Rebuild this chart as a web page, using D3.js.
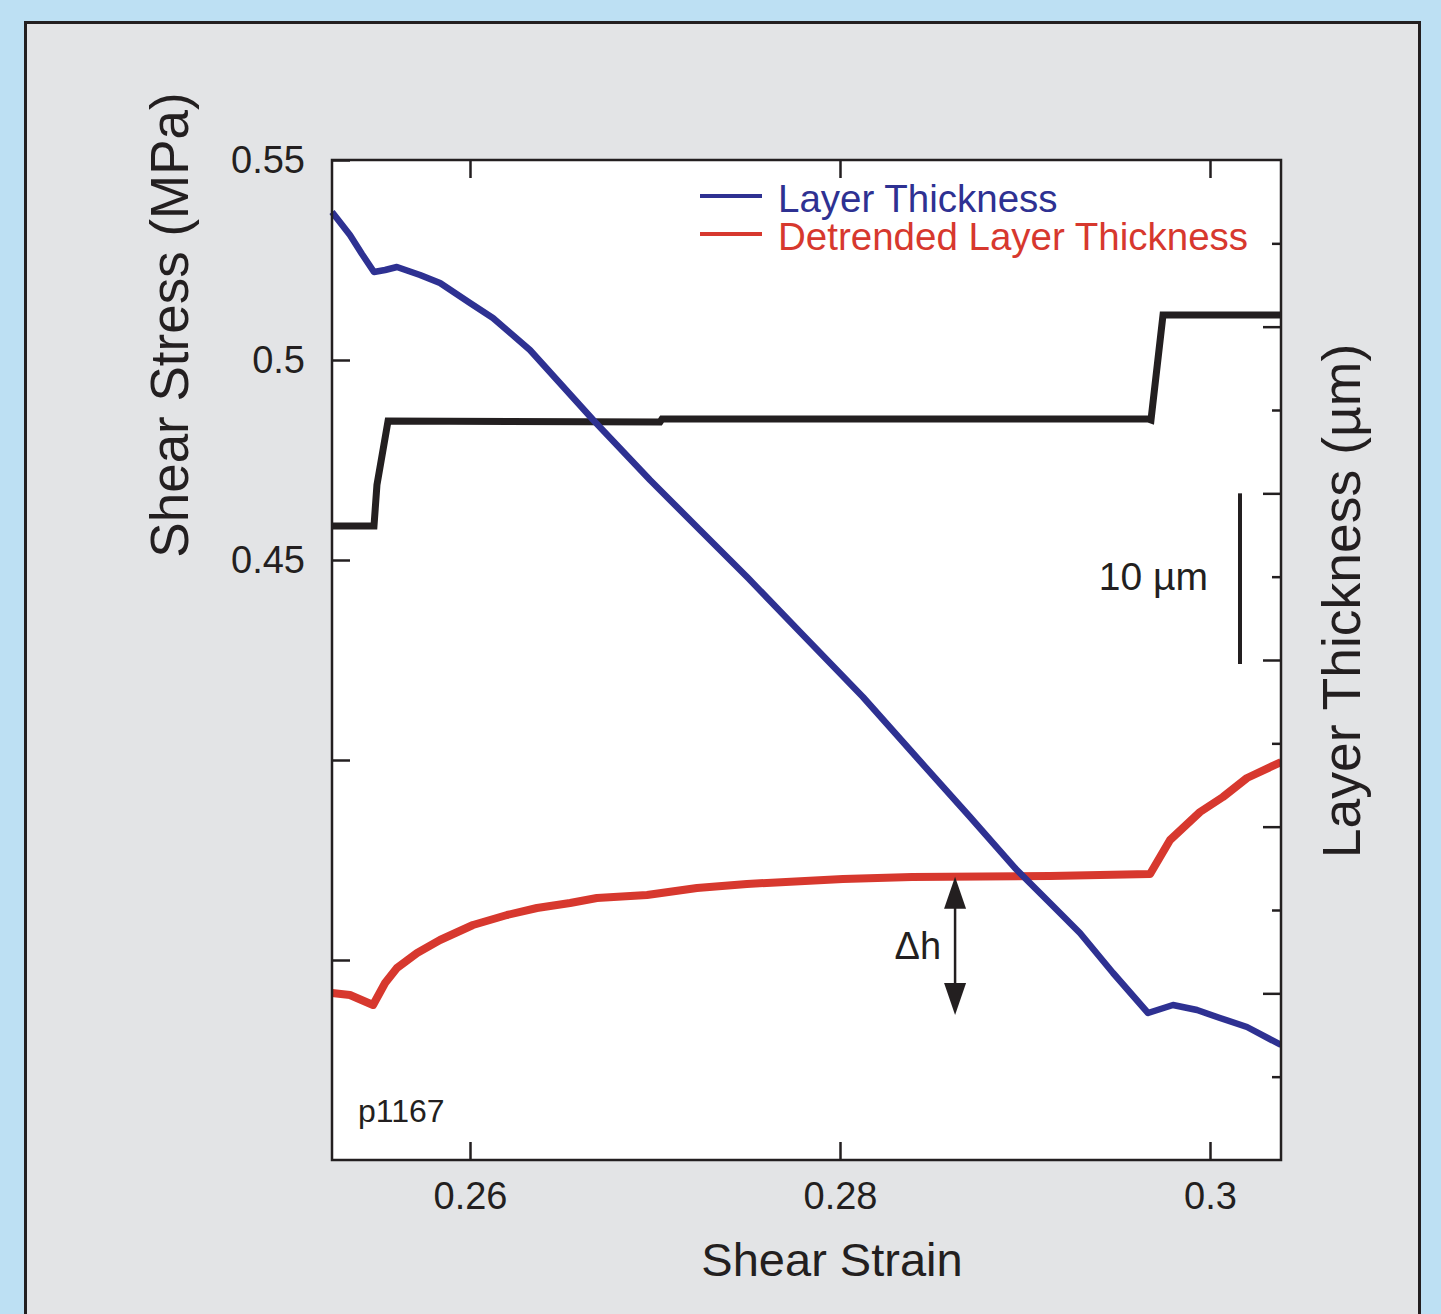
<!DOCTYPE html>
<html>
<head>
<meta charset="utf-8">
<script src="https://cdn.jsdelivr.net/npm/d3@7"></script>
<style>
  html, body { margin: 0; padding: 0; background: #bde0f3; }
  svg { display: block; font-family: "Liberation Sans", Arial, Helvetica, sans-serif; }
</style>
</head>
<body>
<div id="chart"></div>
<script>
// shear stress (MPa) vs shear strain, black step curve
const stressStrain = [0.25254, 0.25481, 0.25497, 0.25557, 0.27027, 0.27038, 0.29665, 0.29681, 0.29746, 0.30384];
const stressValues = [0.4585, 0.4585, 0.46875, 0.48475, 0.4845, 0.48525, 0.48525, 0.485, 0.51125, 0.51125];

// layer thickness (µm, relative) vs shear strain
const thickStrain = [0.25254, 0.25351, 0.25416, 0.25481, 0.25541, 0.25605, 0.2573, 0.25838, 0.26, 0.26124,
  0.26324, 0.26676, 0.26973, 0.27243, 0.27503, 0.27784, 0.28124, 0.28432, 0.28703, 0.28951,
  0.29135, 0.29297, 0.29476, 0.29665, 0.298, 0.2993, 0.30054, 0.302, 0.30384];
const thickValues = [56.88, 55.5, 54.36, 53.28, 53.4, 53.58, 53.1, 52.62, 51.42, 50.52,
  48.6, 44.28, 40.8, 37.8, 34.92, 31.68, 27.78, 23.94, 20.58, 17.46,
  15.42, 13.62, 11.22, 8.82, 9.3, 9.0, 8.52, 7.98, 6.9];

// detrended layer thickness (µm, relative)
const detStrain = [0.25254, 0.25351, 0.25476, 0.25541, 0.25605, 0.25714, 0.25838, 0.26016, 0.262, 0.26362,
  0.26541, 0.26686, 0.26957, 0.27227, 0.27497, 0.28016, 0.28389, 0.29135, 0.29676, 0.29784,
  0.29946, 0.3007, 0.302, 0.30384];
const detValues = [10.02, 9.9, 9.3, 10.62, 11.52, 12.42, 13.2, 14.1, 14.7, 15.12,
  15.42, 15.72, 15.9, 16.32, 16.56, 16.86, 16.98, 17.04, 17.16, 19.2,
  20.88, 21.78, 22.92, 23.88];

const xTicks = [0.26, 0.28, 0.30];
const xTickLabels = ["0.26", "0.28", "0.3"];
const leftTicks = [0.35, 0.40, 0.45, 0.50, 0.55];
const leftTickLabels = { 0.45: "0.45", 0.5: "0.5", 0.55: "0.55" };
const rightTicks = d3.range(5, 60, 5);

const legendNames = ["Layer Thickness", "Detrended Layer Thickness"];
const scaleBarUm = [30, 40];     // 10 µm scale bar
const deltaH = { strain: 0.28622, top: 17.0, bottom: 8.7 };

const width = 1441, height = 1314;
const margin = { left: 332, top: 160, right: 160, bottom: 154 };
const innerWidth = width - margin.left - margin.right;
const innerHeight = height - margin.top - margin.bottom;

const ink = "#231f20", blue = "#2e3192", red = "#d7382e";

const svg = d3.select("#chart")
  .append("svg")
    .attr("width", width)
    .attr("height", height)
    .attr("viewBox", [0, 0, width, height]);

// backgrounds
svg.append("rect")
  .attr("width", width).attr("height", height)
  .attr("fill", "#bde0f3");
svg.append("path")
  .attr("d", `M25.5,${height} V22.5 H1419.5 V${height}`)
  .attr("fill", "#e3e4e6")
  .attr("stroke", ink)
  .attr("stroke-width", 3);

const xScale = d3.scaleLinear()
  .domain([0.26 - 138 / 370 * 0.02, 0.30 + 71 / 370 * 0.02])
  .range([0, innerWidth]);
const yLeft = d3.scaleLinear()
  .domain([0.30, 0.55])
  .range([innerHeight, 0]);
const yRight = d3.scaleLinear()
  .domain([0, 60])
  .range([innerHeight, 0]);

const innerChart = svg
  .append("g")
    .attr("transform", `translate(${margin.left}, ${margin.top})`);

innerChart.append("rect")
  .attr("width", innerWidth).attr("height", innerHeight)
  .attr("fill", "#ffffff");

// curves
const defs = svg.append("defs");
defs.append("clipPath").attr("id", "clip")
  .append("rect").attr("x", -6).attr("y", 0).attr("width", innerWidth + 6).attr("height", innerHeight);

const curves = innerChart.append("g").attr("clip-path", "url(#clip)");

const lineRight = d3.line()
  .x(d => xScale(d[0]))
  .y(d => yRight(d[1]));
const lineLeft = d3.line()
  .x(d => xScale(d[0]))
  .y(d => yLeft(d[1]));

curves.append("path")
  .datum(d3.zip(detStrain, detValues))
  .attr("fill", "none")
  .attr("stroke", red)
  .attr("stroke-width", 8)
  .attr("stroke-linejoin", "round")
  .attr("d", lineRight);

curves.append("path")
  .datum(d3.zip(stressStrain, stressValues))
  .attr("fill", "none")
  .attr("stroke", ink)
  .attr("stroke-width", 7)
  .attr("stroke-linejoin", "miter")
  .attr("d", lineLeft);

curves.append("path")
  .datum(d3.zip(thickStrain, thickValues))
  .attr("fill", "none")
  .attr("stroke", blue)
  .attr("stroke-width", 6.5)
  .attr("stroke-linejoin", "round")
  .attr("d", lineRight);

// axes
const styleAxis = g => {
  g.select(".domain").remove();
  g.selectAll(".tick line").attr("stroke", ink).attr("stroke-width", 2.5);
  g.selectAll(".tick text")
    .attr("fill", ink)
    .attr("font-size", 38)
    .attr("font-family", "Liberation Sans, Arial, sans-serif");
  g.selectAll(".tick text").filter(function () { return this.textContent === ""; }).remove();
};

innerChart.append("g")
  .attr("transform", `translate(0, ${innerHeight})`)
  .call(d3.axisBottom(xScale)
    .tickValues(xTicks)
    .tickFormat((d, i) => xTickLabels[i])
    .tickSizeInner(-18).tickSizeOuter(0).tickPadding(22))
  .call(styleAxis);

innerChart.append("g")
  .call(d3.axisTop(xScale)
    .tickValues(xTicks)
    .tickFormat("")
    .tickSizeInner(-18).tickSizeOuter(0))
  .call(styleAxis);

innerChart.append("g")
  .call(d3.axisLeft(yLeft)
    .tickValues(leftTicks)
    .tickFormat(d => leftTickLabels[d] || "")
    .tickSizeInner(-18).tickSizeOuter(0).tickPadding(27))
  .call(styleAxis);

const rightAxis = innerChart.append("g")
  .attr("transform", `translate(${innerWidth}, 0)`)
  .call(d3.axisRight(yRight)
    .tickValues(rightTicks)
    .tickFormat("")
    .tickSizeOuter(0))
  .call(styleAxis);
rightAxis.selectAll(".tick line")
  .attr("x2", d => d % 10 === 0 ? -18 : -9);

// frame
innerChart.append("rect")
  .attr("width", innerWidth).attr("height", innerHeight)
  .attr("fill", "none")
  .attr("stroke", ink)
  .attr("stroke-width", 2.5);

// axis titles
svg.append("text")
  .attr("transform", `translate(188, 325) rotate(-90)`)
  .attr("text-anchor", "middle")
  .attr("font-size", 53)
  .attr("fill", ink)
  .text("Shear Stress (MPa)");

svg.append("text")
  .attr("transform", `translate(1360, 601) rotate(-90)`)
  .attr("text-anchor", "middle")
  .attr("font-size", 53.5)
  .attr("fill", ink)
  .text("Layer Thickness (µm)");

svg.append("text")
  .attr("x", 832).attr("y", 1276)
  .attr("text-anchor", "middle")
  .attr("font-size", 47)
  .attr("fill", ink)
  .text("Shear Strain");

// legend
const legend = svg.append("g");
[blue, red].forEach((c, i) => {
  const yy = 196 + i * 38;
  legend.append("line")
    .attr("x1", 700).attr("x2", 762)
    .attr("y1", yy).attr("y2", yy)
    .attr("stroke", c).attr("stroke-width", 4);
  legend.append("text")
    .attr("x", 778).attr("y", yy + 16)
    .attr("font-size", 38.5)
    .attr("fill", c)
    .text(legendNames[i]);
});

// 10 µm scale bar
const barX = xScale(0.30 + 30 / 370 * 0.02);
innerChart.append("line")
  .attr("x1", barX).attr("x2", barX)
  .attr("y1", yRight(scaleBarUm[1])).attr("y2", yRight(scaleBarUm[0]) + 4)
  .attr("stroke", ink).attr("stroke-width", 4);
innerChart.append("text")
  .attr("x", barX - 32).attr("y", (yRight(scaleBarUm[0]) + yRight(scaleBarUm[1])) / 2 + 13)
  .attr("text-anchor", "end")
  .attr("font-size", 39)
  .attr("fill", ink)
  .text("10 µm");

// Δh arrow
const ax = xScale(deltaH.strain);
const aTop = yRight(deltaH.top), aBot = yRight(deltaH.bottom);
innerChart.append("line")
  .attr("x1", ax).attr("x2", ax)
  .attr("y1", aTop + 20).attr("y2", aBot - 20)
  .attr("stroke", ink).attr("stroke-width", 2.5);
innerChart.append("path")
  .attr("d", `M${ax},${aTop} L${ax - 11},${aTop + 32} L${ax + 11},${aTop + 32} Z`)
  .attr("fill", ink);
innerChart.append("path")
  .attr("d", `M${ax},${aBot} L${ax - 11},${aBot - 32} L${ax + 11},${aBot - 32} Z`)
  .attr("fill", ink);
innerChart.append("text")
  .attr("x", ax - 14).attr("y", (aTop + aBot) / 2 + 13)
  .attr("text-anchor", "end")
  .attr("font-size", 38)
  .attr("fill", ink)
  .text("Δh");

// run label
innerChart.append("text")
  .attr("x", 26).attr("y", innerHeight - 38)
  .attr("font-size", 32)
  .attr("fill", ink)
  .text("p1167");
</script>
</body>
</html>
